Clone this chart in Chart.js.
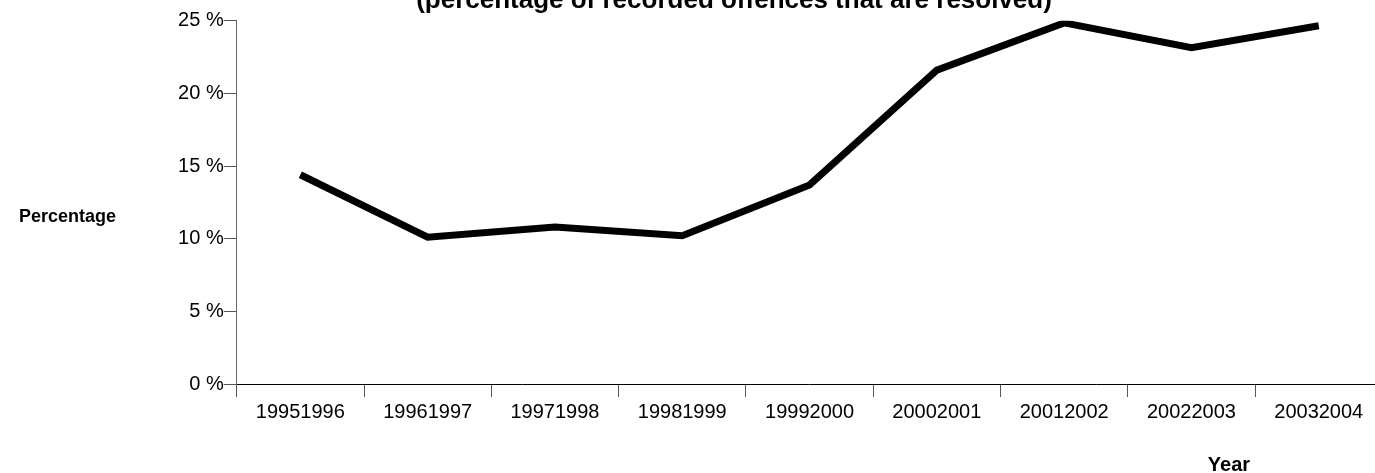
<!DOCTYPE html>
<html>
<head>
<meta charset="utf-8">
<script src="https://cdn.jsdelivr.net/npm/chart.js@4.4.1/dist/chart.umd.min.js"></script>
<style>
  html, body { margin: 0; padding: 0; background: #fff; overflow: hidden; }
  #wrap { width: 1400px; height: 473px; }
</style>
</head>
<body>
<div id="wrap"><canvas id="c" width="1400" height="473"></canvas></div>
<script>
const categories = ["19951996", "19961997", "19971998", "19981999", "19992000",
                    "20002001", "20012002", "20022003", "20032004"];
const resolvedPct = [14.4, 10.1, 10.8, 10.2, 13.7, 21.6, 24.85, 23.15, 24.65];
const yTickValues = [0, 5, 10, 15, 20, 25];
const titleText = "(percentage of recorded offences that are resolved)";
const yAxisTitle = "Percentage";
const xAxisTitle = "Year";

const FONT = "'Liberation Sans', Arial, Helvetica, sans-serif";

const textPlugin = {
  id: 'texts',
  afterDraw(chart) {
    const ctx = chart.ctx;
    ctx.save();
    ctx.fillStyle = '#000';
    ctx.textBaseline = 'alphabetic';
    ctx.textAlign = 'center';
    ctx.font = "bold 26px " + FONT;
    ctx.fillText(titleText, 734, 8);
    ctx.textAlign = 'left';
    ctx.font = "bold 18px " + FONT;
    ctx.fillText(yAxisTitle, 19, 222);
    ctx.textAlign = 'center';
    ctx.font = "bold 20px " + FONT;
    ctx.fillText(xAxisTitle, 1229, 471);
    ctx.restore();
  }
};

new Chart(document.getElementById('c'), {
  type: 'line',
  data: {
    labels: categories,
    datasets: [{
      data: resolvedPct,
      borderColor: '#000',
      backgroundColor: '#000',
      borderWidth: 7,
      pointRadius: 0,
      tension: 0,
      fill: false
    }]
  },
  options: {
    responsive: false,
    devicePixelRatio: 1,
    animation: false,
    layout: { padding: { top: 20.7, right: 17.6, bottom: 0, left: 0 } },
    plugins: { legend: { display: false }, title: { display: false }, tooltip: { enabled: false } },
    scales: {
      x: {
        offset: true,
        grid: { display: true, drawOnChartArea: false, drawTicks: true, tickLength: 13, color: '#555', offset: true, lineWidth: 1 },
        border: { display: true, color: '#000', width: 1 },
        ticks: { color: '#000', font: { family: FONT, size: 20 }, padding: 3, maxRotation: 0, autoSkip: false },
        afterFit(scale) { scale.height = 89; }
      },
      y: {
        min: 0, max: 25,
        afterBuildTicks(scale) { scale.ticks = yTickValues.map(v => ({ value: v })); },
        grid: { display: true, drawOnChartArea: false, drawTicks: true, tickLength: 13, color: '#555' },
        border: { display: true, color: '#666', width: 1 },
        ticks: { color: '#000', font: { family: FONT, size: 20 }, padding: 0, callback: v => v + ' %' },
        afterFit(scale) { scale.width = 236.7; }
      }
    }
  },
  plugins: [textPlugin]
});
</script>
</body>
</html>
